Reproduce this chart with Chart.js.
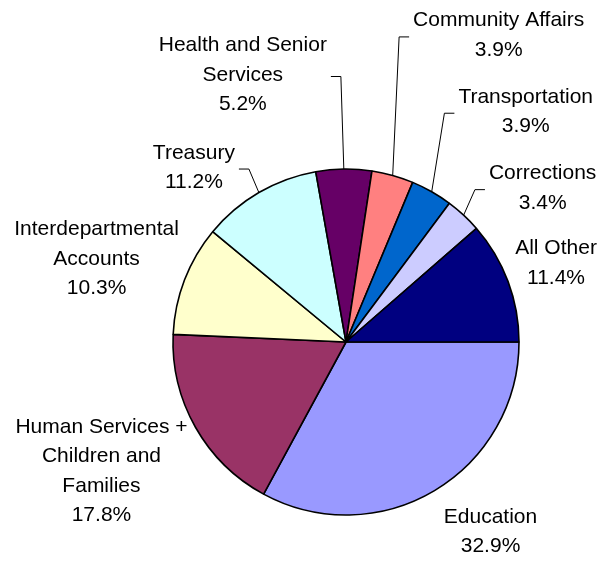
<!DOCTYPE html>
<html>
<head>
<meta charset="utf-8">
<script src="https://cdn.jsdelivr.net/npm/chart.js@4.4.1/dist/chart.umd.min.js"></script>
<style>
  html, body { margin: 0; padding: 0; background: #fff; }
  #wrap { width: 602px; height: 561px; }
</style>
</head>
<body>
<div id="wrap"><canvas id="budgetPie" width="602" height="561"></canvas></div>
<script>
const categories = [
  ["Education"],
  ["Human Services +", "Children and", "Families"],
  ["Interdepartmental", "Accounts"],
  ["Treasury"],
  ["Health and Senior", "Services"],
  ["Community Affairs"],
  ["Transportation"],
  ["Corrections"],
  ["All Other"]
];

const shares = [32.9, 17.8, 10.3, 11.2, 5.2, 3.9, 3.9, 3.4, 11.4];

const sliceColors = [
  "#9999FF", "#993366", "#FFFFCC", "#CCFFFF", "#660066",
  "#FF8080", "#0066CC", "#CCCCFF", "#000080"
];

// label placement relative to the outer edge of each slice's middle
const labelOffsets = [
  [56, 41], [-94, 44], [-88, -21], [-65, -25], [-101, -94],
  [106, -140], [94, -80], [79, -27], [48, -18]
];
// which labels get a leader line, and on which side of the text it attaches
const leaderSide = [null, null, null, "right", "right", "left", "left", "left", null];

const outsideLabels = {
  id: "outsideLabels",
  afterDatasetsDraw(chart) {
    const { ctx } = chart;
    const arcs = chart.getDatasetMeta(0).data;
    const lineH = 29.5;
    ctx.save();
    ctx.font = "21px 'Liberation Sans', Arial, sans-serif";
    ctx.fillStyle = "#000";
    ctx.textAlign = "center";
    ctx.textBaseline = "middle";

    arcs.forEach((arc, i) => {
      const { x, y, startAngle, endAngle, outerRadius } = arc.getProps(
        ["x", "y", "startAngle", "endAngle", "outerRadius"], true);
      const mid = (startAngle + endAngle) / 2;
      const ex = x + outerRadius * Math.cos(mid);
      const ey = y + outerRadius * Math.sin(mid);
      const cx = ex + labelOffsets[i][0];
      const cy = ey + labelOffsets[i][1];

      const lines = categories[i].concat([shares[i].toFixed(1) + "%"]);
      const top = cy - (lines.length - 1) * lineH / 2;
      let w = 0;
      lines.forEach((t, k) => {
        ctx.fillText(t, cx, top + k * lineH);
        w = Math.max(w, ctx.measureText(t).width);
      });

      const side = leaderSide[i];
      if (side) {
        const ly = cy + 1.5;
        const edge = side === "right" ? cx + w / 2 : cx - w / 2;
        const dir = side === "right" ? 1 : -1;
        ctx.beginPath();
        ctx.strokeStyle = "#000";
        ctx.lineWidth = 1;
        ctx.moveTo(edge + dir * 4, ly);
        ctx.lineTo(edge + dir * 14, ly);
        ctx.lineTo(ex, ey);
        ctx.stroke();
      }
    });
    ctx.restore();
  }
};

new Chart(document.getElementById("budgetPie"), {
  type: "pie",
  data: {
    labels: categories.map(c => c.join(" ")),
    datasets: [{
      data: shares,
      backgroundColor: sliceColors,
      borderColor: "#000",
      borderWidth: 1.6
    }]
  },
  plugins: [outsideLabels],
  options: {
    responsive: false,
    animation: false,
    rotation: 90,
    radius: 173,
    layout: { padding: { top: 168, bottom: 45, left: 172, right: 82 } },
    plugins: {
      legend: { display: false },
      tooltip: { enabled: false }
    }
  }
});
</script>
</body>
</html>
